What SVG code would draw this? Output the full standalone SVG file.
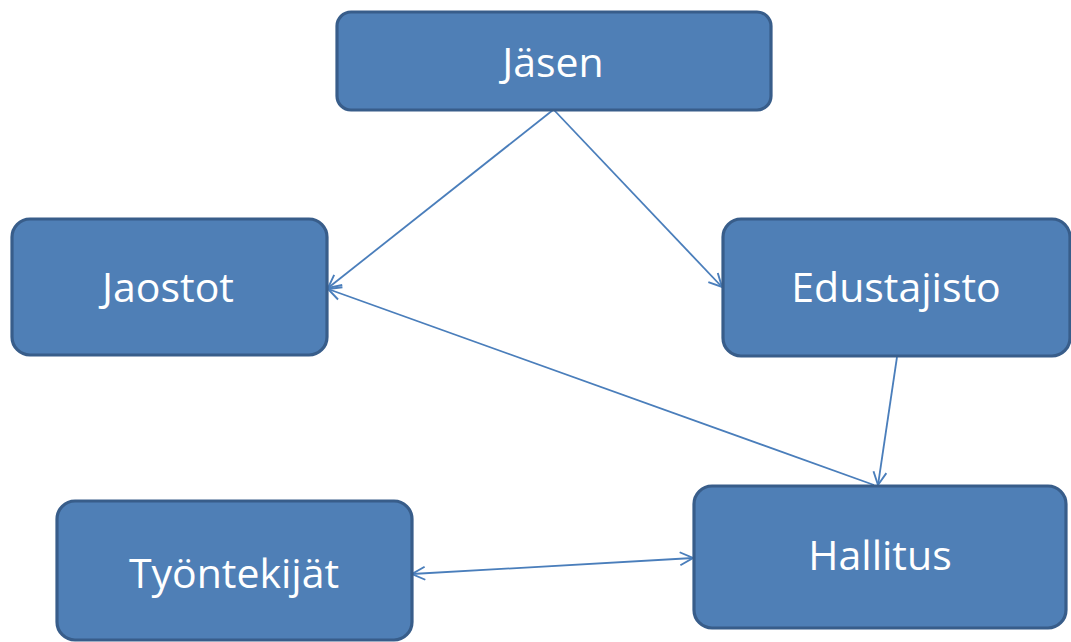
<svg xmlns="http://www.w3.org/2000/svg" width="1071" height="642" viewBox="0 0 1071 642">
<style>
.box{fill:#4f7fb6;stroke:#385d8a;stroke-width:3.2}
.lbl{font-family:"Open Sans",sans-serif;font-size:41px;fill:#fff;text-anchor:middle}
.c{stroke:#4a7ebb;stroke-width:1.8;fill:none}
</style>
<defs>
<marker id="a" viewBox="-14 -8 16 16" refX="0" refY="0" markerWidth="16" markerHeight="16" markerUnits="userSpaceOnUse" orient="auto-start-reverse">
<path d="M-13,-6.5 L0,0 L-13,6.5" fill="none" stroke="#4a7ebb" stroke-width="1.9"/>
</marker>
</defs>
<rect width="1071" height="642" fill="#fff"/>
<g id="connectors">
<line class="c" x1="553" y1="110" x2="328" y2="288" marker-end="url(#a)"/>
<line class="c" x1="554" y1="110" x2="722" y2="287" marker-end="url(#a)"/>
<line class="c" x1="874" y1="485" x2="328" y2="289" marker-end="url(#a)"/>
<line class="c" x1="897" y1="357" x2="878" y2="485" marker-end="url(#a)"/>
<line class="c" x1="412" y1="574" x2="693" y2="558" marker-start="url(#a)" marker-end="url(#a)"/>
</g>
<g id="jasen"><rect class="box" x="337" y="12" width="434" height="98" rx="14"/><text class="lbl" x="553" y="77">Jäsen</text></g>
<g id="jaostot"><rect class="box" x="12" y="219" width="315" height="136" rx="18"/><text class="lbl" x="168" y="302">Jaostot</text></g>
<g id="edustajisto"><rect class="box" x="723" y="219" width="347" height="137" rx="18"/><text class="lbl" x="896" y="302">Edustajisto</text></g>
<g id="hallitus"><rect class="box" x="694" y="486" width="372" height="142" rx="18"/><text class="lbl" x="880" y="570">Hallitus</text></g>
<g id="tyontekijat"><rect class="box" x="57" y="501" width="355" height="139" rx="18"/><text class="lbl" x="234" y="588">Työntekijät</text></g>
</svg>
